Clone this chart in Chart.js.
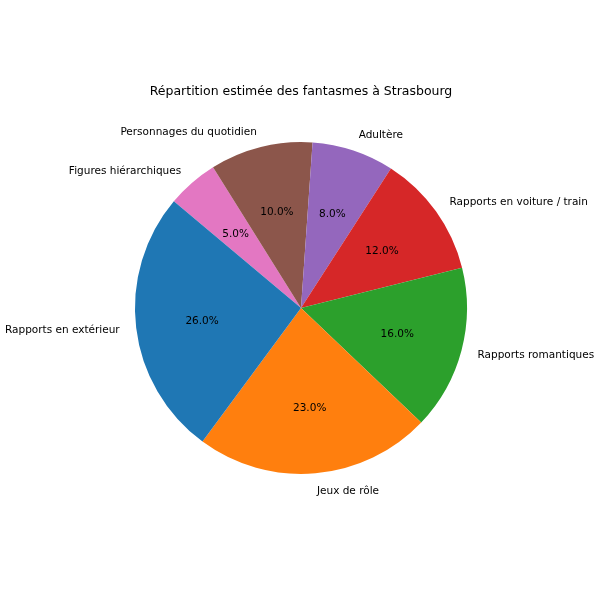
<!DOCTYPE html>
<html>
<head>
<meta charset="utf-8">
<script src="https://cdn.jsdelivr.net/npm/chart.js@4"></script>
<style>
html,body{margin:0;padding:0;background:#fff;}
#wrap{width:600px;height:600px;position:relative;}
</style>
</head>
<body>
<div id="wrap"><canvas id="c" width="600" height="600"></canvas></div>
<script>
const titleText = "Répartition estimée des fantasmes à Strasbourg";
const categories = ["Rapports en extérieur","Jeux de rôle","Rapports romantiques","Rapports en voiture / train","Adultère","Personnages du quotidien","Figures hiérarchiques"];
const values = [26, 23, 16, 12, 8, 10, 5];
const colors = ["#1f77b4","#ff7f0e","#2ca02c","#d62728","#9467bd","#8c564b","#e377c2"];
const startAngleDeg = 140; // matplotlib startangle, counterclockwise

// matplotlib draws counterclockwise; Chart.js clockwise -> reverse order
const cjLabels = categories.slice().reverse();
const cjValues = values.slice().reverse();
const cjColors = colors.slice().reverse();
const total = values.reduce((a,b)=>a+b,0);

const FONT = '"DejaVu Sans", sans-serif';

const labelPlugin = {
  id: 'mplLabels',
  afterDatasetsDraw(chart) {
    const ctx = chart.ctx;
    const meta = chart.getDatasetMeta(0);
    ctx.save();
    ctx.fillStyle = '#000';
    meta.data.forEach((arc, i) => {
      const p = arc.getProps(['x','y','startAngle','endAngle','outerRadius'], true);
      const mid = (p.startAngle + p.endAngle) / 2;
      const r = p.outerRadius;
      const cx = Math.cos(mid), cy = Math.sin(mid);
      // percent
      ctx.font = '10.5px ' + FONT;
      ctx.textAlign = 'center';
      ctx.textBaseline = 'middle';
      const pct = (cjValues[i] / total * 100).toFixed(1) + '%';
      ctx.fillText(pct, p.x + 0.6 * r * cx, p.y + 0.6 * r * cy + 1);
      // label
      const lx = p.x + 1.1 * r * cx, ly = p.y + 1.1 * r * cy + 1;
      ctx.textAlign = cx > 0 ? 'left' : 'right';
      ctx.fillText(cjLabels[i], lx, ly);
    });
    // title
    ctx.font = '12.5px ' + FONT;
    ctx.textAlign = 'center';
    ctx.textBaseline = 'middle';
    ctx.fillText(titleText, (chart.chartArea.left + chart.chartArea.right) / 2, 92);
    ctx.restore();
  }
};

new Chart(document.getElementById('c'), {
  type: 'pie',
  data: {
    labels: cjLabels,
    datasets: [{
      data: cjValues,
      backgroundColor: cjColors,
      borderWidth: 0,
      hoverOffset: 0
    }]
  },
  options: {
    responsive: false,
    animation: false,
    rotation: 90 - startAngleDeg,
    layout: { padding: { left: 135, right: 133, top: 142, bottom: 126 } },
    plugins: {
      legend: { display: false },
      title: { display: false },
      tooltip: { enabled: false }
    }
  },
  plugins: [labelPlugin]
});
</script>
</body>
</html>
